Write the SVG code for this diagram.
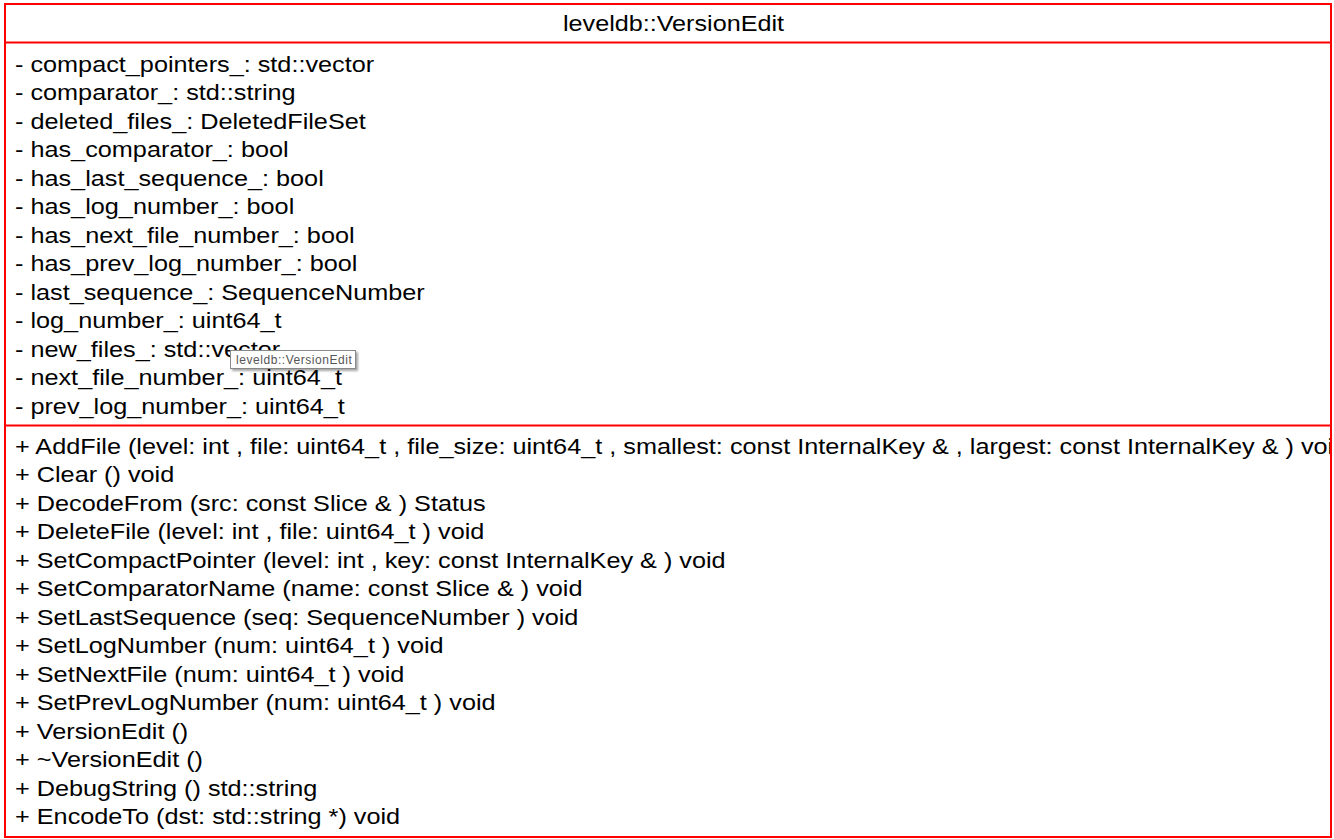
<svg xmlns="http://www.w3.org/2000/svg" width="1334" height="839" viewBox="0 0 1334 839">
<style>
.t{font-family:"Liberation Sans",Arial,sans-serif;font-size:22px;fill:#000}
.b{fill:none;stroke:#ff0000;stroke-width:2}
.tip{font-family:"Liberation Sans",Arial,sans-serif;font-size:12px;letter-spacing:0.55px;fill:#555}
</style>
<defs>
<clipPath id="c"><rect x="5" y="4" width="1325" height="833"/></clipPath>
<filter id="sh" x="-10%" y="-20%" width="130%" height="160%"><feDropShadow dx="2" dy="2" stdDeviation="1.2" flood-color="#000" flood-opacity="0.35"/></filter>
</defs>
<rect x="0" y="0" width="1334" height="839" fill="#fff"/>
<g id="VersionEdit">
<rect x="5" y="4" width="1326" height="833" fill="#fff" stroke="none"/>
<g transform="translate(673.5,0) scale(1.145,1)">
<text class="t" x="0" y="31" text-anchor="middle">leveldb::VersionEdit</text>
</g>
<g clip-path="url(#c)">
<g transform="translate(15,0) scale(1.148,1)">
<text class="t" x="0" y="72">- compact_pointers_: std::vector</text>
<text class="t" x="0" y="100.5">- comparator_: std::string</text>
<text class="t" x="0" y="129">- deleted_files_: DeletedFileSet</text>
<text class="t" x="0" y="157.5">- has_comparator_: bool</text>
<text class="t" x="0" y="186">- has_last_sequence_: bool</text>
<text class="t" x="0" y="214.5">- has_log_number_: bool</text>
<text class="t" x="0" y="243">- has_next_file_number_: bool</text>
<text class="t" x="0" y="271.5">- has_prev_log_number_: bool</text>
<text class="t" x="0" y="300">- last_sequence_: SequenceNumber</text>
<text class="t" x="0" y="328.5">- log_number_: uint64_t</text>
<text class="t" x="0" y="357">- new_files_: std::vector</text>
<text class="t" x="0" y="385.5">- next_file_number_: uint64_t</text>
<text class="t" x="0" y="414">- prev_log_number_: uint64_t</text>
<text class="t" x="0" y="454">+ AddFile (level: int , file: uint64_t , file_size: uint64_t , smallest: const InternalKey &amp; , largest: const InternalKey &amp; ) void</text>
<text class="t" x="0" y="482.5">+ Clear () void</text>
<text class="t" x="0" y="511">+ DecodeFrom (src: const Slice &amp; ) Status</text>
<text class="t" x="0" y="539.5">+ DeleteFile (level: int , file: uint64_t ) void</text>
<text class="t" x="0" y="568">+ SetCompactPointer (level: int , key: const InternalKey &amp; ) void</text>
<text class="t" x="0" y="596.5">+ SetComparatorName (name: const Slice &amp; ) void</text>
<text class="t" x="0" y="625">+ SetLastSequence (seq: SequenceNumber ) void</text>
<text class="t" x="0" y="653.5">+ SetLogNumber (num: uint64_t ) void</text>
<text class="t" x="0" y="682">+ SetNextFile (num: uint64_t ) void</text>
<text class="t" x="0" y="710.5">+ SetPrevLogNumber (num: uint64_t ) void</text>
<text class="t" x="0" y="739">+ VersionEdit ()</text>
<text class="t" x="0" y="767.5">+ ~VersionEdit ()</text>
<text class="t" x="0" y="796">+ DebugString () std::string</text>
<text class="t" x="0" y="824.5">+ EncodeTo (dst: std::string *) void</text>
</g>
</g>
<rect class="b" x="5" y="4" width="1326" height="833"/>
<line class="b" x1="5" y1="42.5" x2="1331" y2="42.5"/>
<line class="b" x1="5" y1="425.5" x2="1331" y2="425.5"/>
</g>
<g id="tooltip">
<rect x="230.5" y="350.5" width="125" height="18" fill="#fff" stroke="#888" stroke-width="1" filter="url(#sh)"/>
<text class="tip" x="236" y="364">leveldb::VersionEdit</text>
</g>
</svg>
